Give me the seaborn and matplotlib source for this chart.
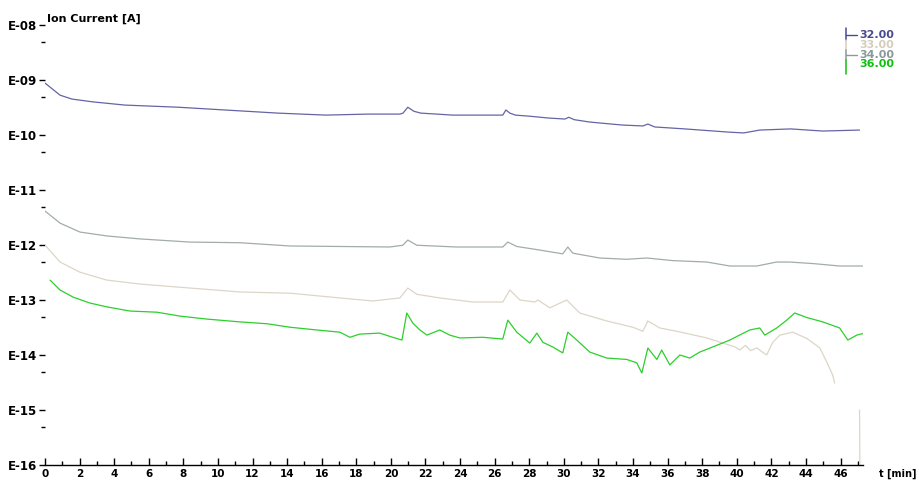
import numpy as np
import pandas as pd
import matplotlib
matplotlib.use("Agg")
import matplotlib.pyplot as plt
from matplotlib.lines import Line2D
from matplotlib.ticker import FixedLocator, NullFormatter
import seaborn as sns

# ---- ion current traces (time in minutes, current in A) ----
t32 = [0.0, 0.87, 1.56, 2.77, 4.62, 7.69, 10.4, 13.47, 16.24, 18.67, 20.52, 20.7, 20.98, 21.33,
       21.73, 23.58, 26.0, 26.47, 26.65, 26.88, 27.2, 28.0, 29.08, 30.06, 30.29, 30.6, 31.5,
       33.35, 34.57, 34.86, 35.26, 37.0, 39.5, 40.4, 41.33, 43.12, 44.97, 47.1]
i32 = [8.8e-10, 5.3e-10, 4.5e-10, 4.0e-10, 3.5e-10, 3.2e-10, 2.85e-10, 2.5e-10, 2.3e-10, 2.4e-10,
       2.4e-10, 2.5e-10, 3.2e-10, 2.7e-10, 2.5e-10, 2.3e-10, 2.3e-10, 2.3e-10, 2.85e-10, 2.5e-10,
       2.3e-10, 2.2e-10, 2.04e-10, 1.95e-10, 2.1e-10, 1.9e-10, 1.72e-10, 1.52e-10, 1.46e-10,
       1.58e-10, 1.4e-10, 1.29e-10, 1.13e-10, 1.09e-10, 1.23e-10, 1.29e-10, 1.18e-10, 1.23e-10]

t33 = [0.0, 0.87, 2.02, 3.58, 5.49, 8.38, 11.27, 14.16, 17.05, 18.96, 20.52, 20.98, 21.5, 22.83,
       24.74, 26.47, 26.88, 27.46, 28.32, 28.5, 29.19, 30.17, 30.92, 32.49, 33.99, 34.57, 34.86,
       35.55, 36.7, 38.27, 39.19, 39.9, 40.17, 40.5, 40.8, 41.16, 41.45, 41.73, 42.08, 42.49,
       43.24, 44.05, 44.8, 45.2, 45.55, 45.66]
i33 = [1.0e-12, 4.9e-13, 3.2e-13, 2.3e-13, 1.95e-13, 1.65e-13, 1.4e-13, 1.33e-13, 1.09e-13, 9.6e-14,
       1.09e-13, 1.65e-13, 1.27e-13, 1.09e-13, 9.2e-14, 9.2e-14, 1.52e-13, 1.0e-13, 9.2e-14, 1.0e-13,
       7.2e-14, 1.0e-13, 5.8e-14, 4.15e-14, 3.2e-14, 2.7e-14, 4.15e-14, 3.1e-14, 2.63e-14, 2.04e-14,
       1.65e-14, 1.4e-14, 1.23e-14, 1.5e-14, 1.2e-14, 1.35e-14, 1.15e-14, 1.0e-14, 1.7e-14, 2.3e-14,
       2.6e-14, 2.0e-14, 1.35e-14, 7.5e-15, 4.3e-15, 3.1e-15]
# final reading of m/z 33 falls off the scale
t33_end = [47.1, 47.12]
i33_end = [1.0e-15, 1.0e-16]

t34 = [0.0, 0.87, 2.02, 3.58, 5.49, 8.38, 11.27, 14.16, 17.05, 19.94, 20.69, 20.98, 21.5, 23.8,
       24.74, 26.47, 26.76, 27.28, 28.6, 29.94, 30.23, 30.52, 32.08, 33.64, 34.8, 36.3, 38.27,
       39.6, 41.16, 42.3, 43.06, 44.4, 45.95, 47.3]
i34 = [4.15e-12, 2.5e-12, 1.72e-12, 1.46e-12, 1.29e-12, 1.13e-12, 1.1e-12, 9.6e-13, 9.4e-13, 9.2e-13,
       9.9e-13, 1.23e-12, 9.9e-13, 9.2e-13, 9.2e-13, 9.2e-13, 1.13e-12, 9.4e-13, 8.1e-13, 6.9e-13,
       9.2e-13, 7.1e-13, 5.8e-13, 5.5e-13, 5.8e-13, 5.2e-13, 4.9e-13, 4.15e-13, 4.15e-13, 4.9e-13,
       4.9e-13, 4.6e-13, 4.15e-13, 4.15e-13]

t36 = [0.29, 0.87, 1.62, 2.6, 3.58, 4.91, 6.47, 7.8, 9.36, 11.27, 12.83, 14.16, 15.72, 17.05, 17.63,
       18.2, 19.36, 20.1, 20.64, 20.92, 21.27, 21.68, 22.08, 22.83, 23.4, 23.99, 25.3, 26.47, 26.76,
       27.28, 28.03, 28.44, 28.79, 29.36, 29.94, 30.23, 30.75, 31.5, 32.49, 33.64, 34.22, 34.51,
       34.86, 35.38, 35.66, 36.13, 36.71, 37.28, 37.86, 38.61, 39.6, 40.75, 41.33, 41.62, 42.31,
       42.89, 43.35, 44.05, 44.97, 45.95, 46.42, 46.94, 47.4]
i36 = [2.3e-13, 1.52e-13, 1.13e-13, 8.8e-14, 7.5e-14, 6.3e-14, 6.0e-14, 5.1e-14, 4.5e-14, 4.0e-14,
       3.7e-14, 3.2e-14, 2.85e-14, 2.6e-14, 2.1e-14, 2.4e-14, 2.5e-14, 2.1e-14, 1.87e-14, 5.8e-14,
       3.8e-14, 2.85e-14, 2.3e-14, 2.85e-14, 2.3e-14, 2.04e-14, 2.1e-14, 1.95e-14, 4.3e-14, 2.6e-14,
       1.65e-14, 2.5e-14, 1.7e-14, 1.4e-14, 1.09e-14, 2.6e-14, 1.87e-14, 1.13e-14, 8.8e-15, 8.3e-15,
       7.2e-15, 4.7e-15, 1.34e-14, 8.3e-15, 1.23e-14, 6.6e-15, 1.0e-14, 8.8e-15, 1.13e-14, 1.4e-14,
       1.87e-14, 2.85e-14, 3.1e-14, 2.3e-14, 3.1e-14, 4.3e-14, 5.8e-14, 4.8e-14, 4.0e-14, 3.1e-14,
       1.87e-14, 2.3e-14, 2.5e-14]

masses = ["32.00", "33.00", "34.00", "36.00"]
colors = {"32.00": "#6464a6", "33.00": "#dcd6c8", "34.00": "#a3abab", "36.00": "#2ccf2c"}
legend_colors = {"32.00": "#4a4a90", "33.00": "#d4ceba", "34.00": "#8a9999", "36.00": "#10c010"}

decades = list(range(-8, -17, -1))
ytick_labels = ["E-08", "E-09", "E-10", "E-11", "E-12", "E-13", "E-14", "E-15", "E-16"]
xticks = list(range(0, 47, 2))
xtick_labels = [str(v) for v in xticks]

sns.set_theme(style="white")
plt.rcParams["font.family"] = ["DejaVu Sans"]

W, H = 920, 484
fig = plt.figure(figsize=(W / 100, H / 100), dpi=100)
x0, x1, ytop, ybot = 45, 863, 25, 465
ax = fig.add_axes([x0 / W, 1 - ybot / H, (x1 - x0) / W, (ybot - ytop) / H])

df = pd.concat([
    pd.DataFrame({"t": t32, "I": i32, "mass": "32.00"}),
    pd.DataFrame({"t": t33, "I": i33, "mass": "33.00"}),
    pd.DataFrame({"t": t34, "I": i34, "mass": "34.00"}),
    pd.DataFrame({"t": t36, "I": i36, "mass": "36.00"}),
])
for m in masses:
    sub = df[df["mass"] == m]
    sns.lineplot(data=sub, x="t", y="I", ax=ax, color=colors[m], lw=0.9,
                 estimator=None, sort=False, legend=False)
sns.lineplot(x=t33_end, y=i33_end, ax=ax, color=colors["33.00"], lw=0.9,
             estimator=None, sort=False, legend=False)

ax.set_yscale("log")
ax.set_ylim(1e-16, 1e-8)
ax.set_xlim(0, 47.3)
ax.set_xlabel("")
ax.set_ylabel("")
ax.grid(False)

for s in ["top", "right", "left"]:
    ax.spines[s].set_visible(False)
ax.spines["bottom"].set_color("black")
ax.spines["bottom"].set_linewidth(1.0)

ax.yaxis.set_major_locator(FixedLocator([10.0 ** d for d in decades]))
ax.set_yticklabels(ytick_labels)
ax.yaxis.set_minor_locator(FixedLocator([5 * 10.0 ** d for d in decades[1:]]))
ax.yaxis.set_minor_formatter(NullFormatter())
ax.tick_params(axis="y", which="major", direction="out", length=4, width=1, pad=2,
               left=True, labelsize=8.5, colors="black")
ax.tick_params(axis="y", which="minor", direction="out", length=3, width=1, left=True,
               colors="black")
for lbl in ax.get_yticklabels():
    lbl.set_fontweight("bold")

ax.set_xticks(xticks)
ax.set_xticklabels(xtick_labels)
ax.xaxis.set_minor_locator(FixedLocator(list(range(1, 48, 2))))
ax.tick_params(axis="x", which="major", direction="in", length=5, width=1, pad=3,
               bottom=True, labelsize=7.5, colors="black")
ax.tick_params(axis="x", which="minor", direction="in", length=3, width=1, bottom=True,
               colors="black")
for lbl in ax.get_xticklabels():
    lbl.set_fontweight("bold")

fig.text(47 / W, 1 - 19 / H, "Ion Current [A]", fontsize=8, fontweight="bold",
         ha="left", va="center", color="black")
fig.text(879 / W, 1 - 474 / H, "t [min]", fontsize=7, fontweight="bold",
         ha="left", va="center", color="black")

# legend: vertical bar with colored entries
rows = [35, 45, 55, 64]
bar_x = 846
segments = [("32.00", 28, 40), ("33.00", 40, 50), ("34.00", 50, 60), ("36.00", 60, 74)]
for m, ya, yb in segments:
    fig.add_artist(Line2D([bar_x / W, bar_x / W], [1 - ya / H, 1 - yb / H],
                          color=legend_colors[m], lw=1.1, transform=fig.transFigure))
for m, yy in zip(masses, rows):
    if m in ("32.00", "34.00"):
        fig.add_artist(Line2D([bar_x / W, 857 / W], [1 - yy / H, 1 - yy / H],
                              color=legend_colors[m], lw=1, transform=fig.transFigure))
    fig.text(859 / W, 1 - yy / H, m, fontsize=8, color=legend_colors[m],
             fontweight="bold", ha="left", va="center")

fig.savefig("out.png", dpi=100, facecolor="white")
